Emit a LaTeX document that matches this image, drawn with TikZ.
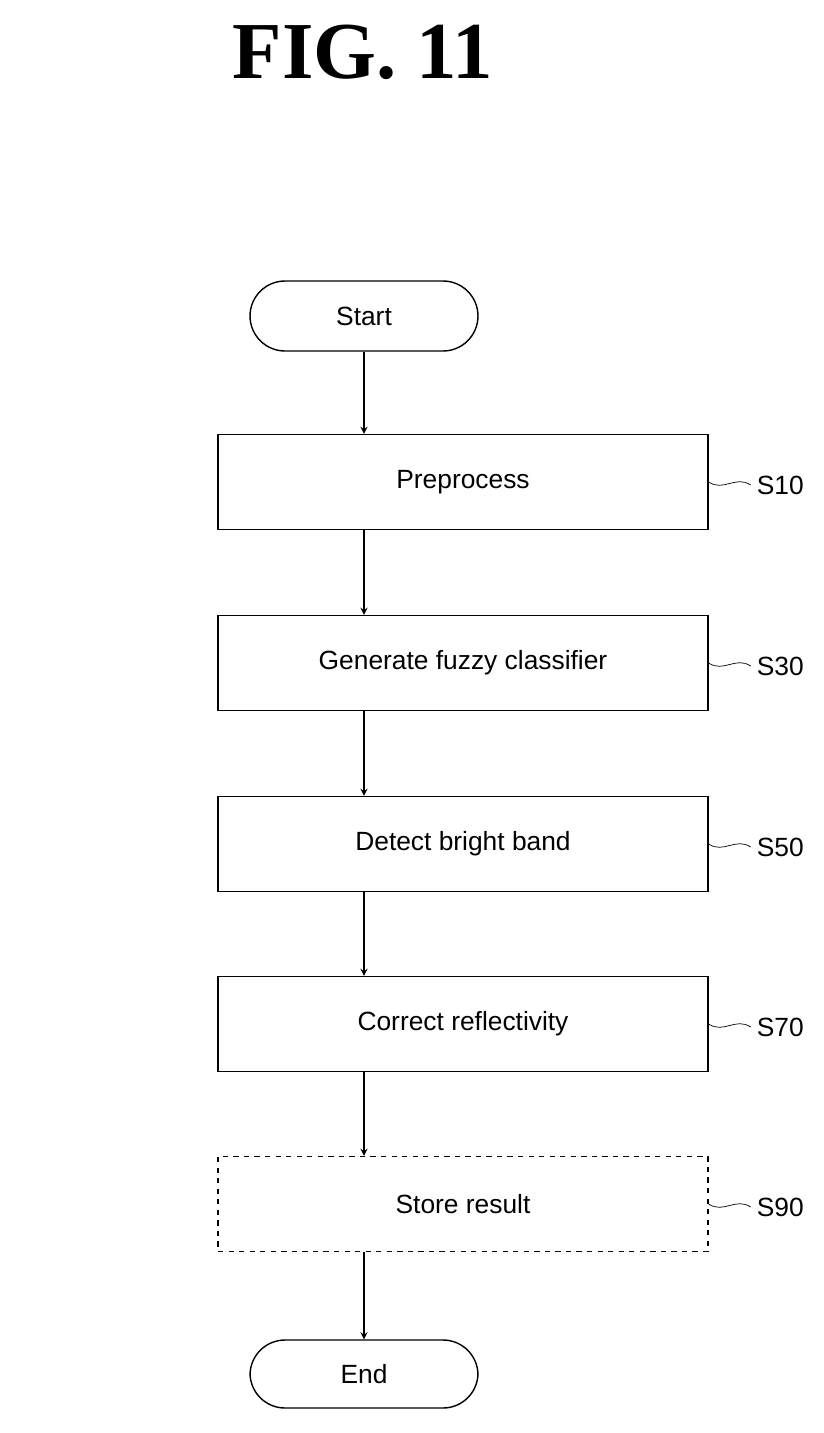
\documentclass[tikz,border=0pt]{standalone}
\usepackage{fontspec}
\setmainfont{Liberation Sans}
\newfontfamily\titlefont{Liberation Serif}
\usetikzlibrary{shapes,arrows,positioning,calc}

\begin{document}
\begin{tikzpicture}[
    x=0.02cm, y=-0.02cm,
    stepbox/.style={rectangle, draw, thick, minimum width=9.8cm, minimum height=1.9cm, font=\fontsize{15}{18}\selectfont},
    terminal/.style={rectangle, draw, thick, rounded corners=0.7cm, minimum width=4.56cm, minimum height=1.4cm, font=\fontsize{15}{18}\selectfont},
    tag/.style={font=\fontsize{15}{18}\selectfont, anchor=west},
    arrow/.style={->, >=stealth, thick}
]
\useasboundingbox (0,0) rectangle (824,1433);

\node[font=\titlefont\bfseries\fontsize{46}{50}\selectfont] (title) at (363,52) {FIG.~11};

\node[terminal] (start) at (364,316) {Start};
\node[stepbox] (pre) at (463,482) {Preprocess};
\node[stepbox] (gen) at (463,663) {Generate fuzzy classifier};
\node[stepbox] (det) at (463,844) {Detect bright band};
\node[stepbox] (cor) at (463,1024) {Correct reflectivity};
\node[stepbox, dashed] (sto) at (463,1204) {Store result};
\node[terminal, minimum height=1.36cm] (end) at (364,1374) {End};

\draw[arrow] (start) -- (pre.north -| start);
\draw[arrow] (pre.south -| start) -- (gen.north -| start);
\draw[arrow] (gen.south -| start) -- (det.north -| start);
\draw[arrow] (det.south -| start) -- (cor.north -| start);
\draw[arrow] (cor.south -| start) -- (sto.north -| start);
\draw[arrow] (sto.south -| start) -- (end);

% step labels
\foreach \stp/\lbl in {pre/S10, gen/S30, det/S50, cor/S70, sto/S90}{
  \node[tag] (\stp-tag) at ($(\stp.east)+(42,3)$) {\lbl};
  \draw (\stp.east) .. controls +(15,10) and +(-15,-10) .. (\stp-tag.west);
}

\end{tikzpicture}
\end{document}
